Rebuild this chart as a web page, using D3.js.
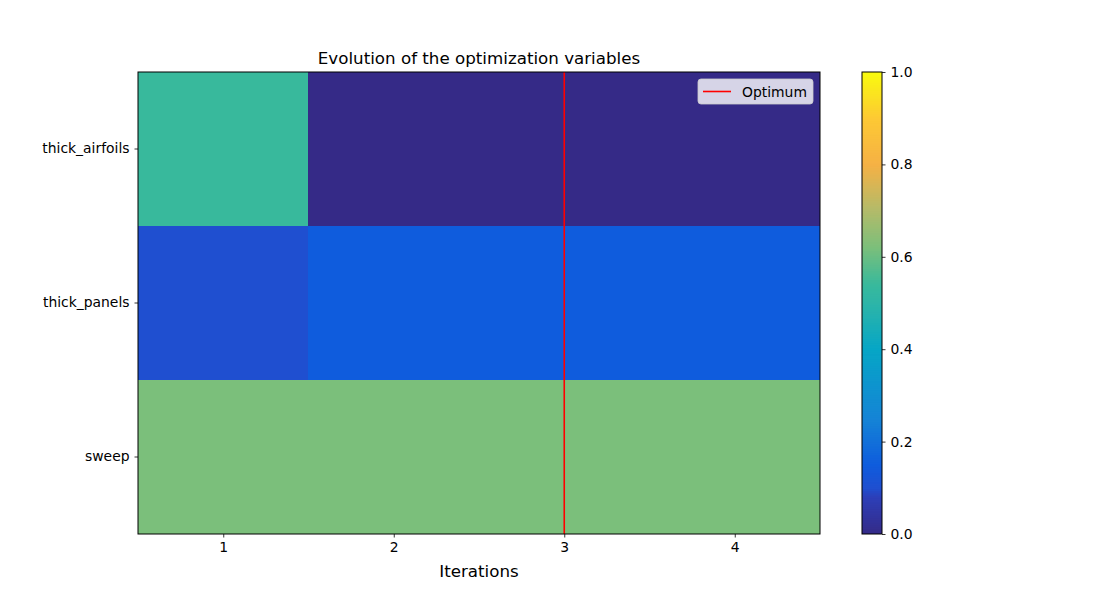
<!DOCTYPE html>
<html>
<head>
<meta charset="utf-8">
<script src="https://cdn.jsdelivr.net/npm/d3@7"></script>
<style>
  body { margin: 0; background: #fff; }
  text { font-family: "DejaVu Sans", sans-serif; fill: #000; }
</style>
</head>
<body>
<div id="chart"></div>
<script>
// data
const variables = ['thick_airfoils', 'thick_panels', 'sweep'];
const iterations = [1, 2, 3, 4];
const thickAirfoils = [0.54, 0.0, 0.0, 0.0];
const thickPanels = [0.10, 0.15, 0.15, 0.15];
const sweep = [0.62, 0.62, 0.62, 0.62];
const optimumIter = 3;
const colorbarTicks = [0, 0.2, 0.4, 0.6, 0.8, 1.0];

// colour stops
const cmapPos = [0, 0.08, 0.10, 0.15, 0.25, 0.40, 0.50, 0.54, 0.62, 0.70, 0.80, 0.90, 1.0];
const cmapCol = ['#352a87', '#2d3fb8', '#1f4fd0', '#0f5cdd', '#1584d6', '#06a6c6', '#2db5a8',
                 '#38b99c', '#7bbf7b', '#b2bb6a', '#f5b145', '#fdc934', '#f9fb0e'];

const rows = [thickAirfoils, thickPanels, sweep];

//dimensions
const width = 1100, height = 600;
const margin = { top: 72, left: 138 };
const graphWidth = 820 - 138;
const graphHeight = 534 - 72;
const fs = '13.9px';

const svg = d3.select('#chart')
    .append('svg')
    .attr('width', width)
    .attr('height', height);

const graph = svg.append('g')
    .attr('transform', `translate(${margin.left}, ${margin.top})`);

//scales
const x = d3.scaleLinear().domain([0.5, 4.5]).range([0, graphWidth]);
const y = d3.scaleBand().domain(variables).range([0, graphHeight]);
const color = d3.scaleLinear()
    .domain(cmapPos)
    .range(cmapCol)
    .interpolate(d3.interpolateRgb);

// cells
const cells = [];
variables.forEach((v, i) => {
    rows[i].forEach((val, j) => cells.push({ v, it: iterations[j], val }));
});

graph.selectAll('rect.cell')
    .data(cells)
    .enter().append('rect')
    .attr('class', 'cell')
    .attr('x', d => Math.floor(x(d.it - 0.5)))
    .attr('y', d => Math.floor(y(d.v)))
    .attr('width', d => Math.ceil(x(d.it + 0.5)) - Math.floor(x(d.it - 0.5)))
    .attr('height', d => Math.ceil(y(d.v) + y.bandwidth()) - Math.floor(y(d.v)))
    .attr('fill', d => color(d.val))
    .attr('shape-rendering', 'crispEdges');

// optimum line
graph.append('line')
    .attr('x1', x(optimumIter)).attr('x2', x(optimumIter))
    .attr('y1', 0).attr('y2', graphHeight)
    .attr('stroke', 'red')
    .attr('stroke-width', 1.6);

// axes
const xAxis = d3.axisBottom(x).tickValues(iterations).tickFormat(d3.format('d'))
    .tickSize(3.5).tickPadding(5);
const yAxis = d3.axisLeft(y).tickSize(3.5).tickPadding(5);

const xAxisGroup = graph.append('g')
    .attr('transform', `translate(0, ${graphHeight})`)
    .call(xAxis);
const yAxisGroup = graph.append('g').call(yAxis);

[xAxisGroup, yAxisGroup].forEach(g => {
    g.select('.domain').remove();
    g.selectAll('text').style('font-size', fs).style('font-family', '"DejaVu Sans", sans-serif');
    g.selectAll('line').attr('stroke', '#000').attr('stroke-width', 0.8);
});

// frame
graph.append('rect')
    .attr('width', graphWidth).attr('height', graphHeight)
    .attr('fill', 'none').attr('stroke', '#000').attr('stroke-width', 1);

// title and label
svg.append('text')
    .attr('x', margin.left + graphWidth / 2).attr('y', 64)
    .attr('text-anchor', 'middle')
    .style('font-size', '16.7px')
    .text('Evolution of the optimization variables');

svg.append('text')
    .attr('x', margin.left + graphWidth / 2).attr('y', 577)
    .attr('text-anchor', 'middle')
    .style('font-size', '16.7px')
    .text('Iterations');

// legend
const legend = graph.append('g')
    .attr('transform', `translate(${graphWidth - 122}, 7)`);
legend.append('rect')
    .attr('width', 115).attr('height', 25)
    .attr('rx', 3)
    .attr('fill', 'rgba(255,255,255,0.8)')
    .attr('stroke', '#ccc')
    .attr('stroke-width', 0.8);
legend.append('line')
    .attr('x1', 5).attr('x2', 33).attr('y1', 12.5).attr('y2', 12.5)
    .attr('stroke', 'red').attr('stroke-width', 1.6);
legend.append('text')
    .attr('x', 44).attr('y', 17.5)
    .style('font-size', fs)
    .text('Optimum');

// colorbar
const cbX = 862, cbW = 20;
const cy = d3.scaleLinear().domain([0, 1]).range([534, 72]);
const cbSteps = d3.range(0, 256).map(i => i / 256);
svg.append('clipPath').attr('id', 'cbclip')
    .append('rect').attr('x', cbX).attr('y', 72).attr('width', cbW).attr('height', graphHeight);
svg.append('g').attr('clip-path', 'url(#cbclip)').selectAll('rect')
    .data(cbSteps)
    .enter().append('rect')
    .attr('x', cbX)
    .attr('y', d => cy(d + 1 / 256) - 0.5)
    .attr('width', cbW)
    .attr('height', graphHeight / 256 + 1)
    .attr('fill', d => color(d + 0.5 / 256));

svg.append('rect')
    .attr('x', cbX).attr('y', 72).attr('width', cbW).attr('height', graphHeight)
    .attr('fill', 'none').attr('stroke', '#000').attr('stroke-width', 1);

const cbAxis = svg.append('g')
    .attr('transform', `translate(${cbX + cbW}, 0)`)
    .call(d3.axisRight(cy).tickValues(colorbarTicks).tickFormat(d3.format('.1f')).tickSize(3.5).tickPadding(5));
cbAxis.select('.domain').remove();
cbAxis.selectAll('text').style('font-size', fs).style('font-family', '"DejaVu Sans", sans-serif');
cbAxis.selectAll('line').attr('stroke', '#000').attr('stroke-width', 0.8);
</script>
</body>
</html>
